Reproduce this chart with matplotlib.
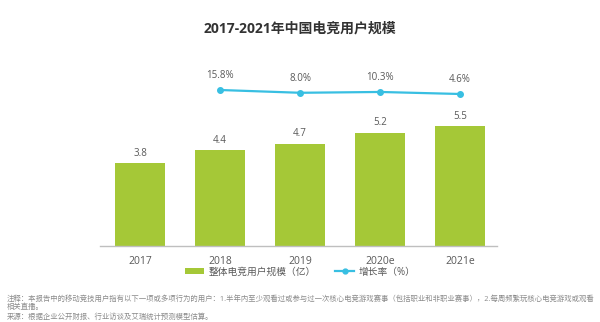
import matplotlib
matplotlib.use("Agg")
import matplotlib.pyplot as plt
from matplotlib.lines import Line2D
from matplotlib.patches import Patch

# ── data ──
YEARS = ["2017", "2018", "2019", "2020e", "2021e"]
USERS = [3.8, 4.4, 4.7, 5.2, 5.5]            # 整体电竞用户规模（亿）
GROWTH_YEARS = ["2018", "2019", "2020e", "2021e"]
GROWTH = [15.8, 8.0, 10.3, 4.6]               # 增长率（%）

GREEN = "#a5c837"
BLUE = "#38bfe2"
INK = "#333333"
LABEL = "#595959"
NOTE = "#8a8a8a"
FONT = ["Open Sans", "Noto Sans CJK SC", "DejaVu Sans"]

plt.rcParams["font.family"] = FONT

W, H = 600, 322
fig = plt.figure(figsize=(W / 100, H / 100), dpi=100)
fig.patch.set_facecolor("white")

# axes placed in pixel terms: baseline at y=246, top at y=60, x 100..497
ax = fig.add_axes([100 / W, 76 / H, 397 / W, 186 / H])
xs = list(range(len(YEARS)))
ax.bar(xs, USERS, width=0.625, color=GREEN, zorder=2)
for x, v in zip(xs, USERS):
    ax.text(x, v + 0.2, f"{v:.1f}", ha="center", va="bottom",
            fontsize=7, color=LABEL)

ax.set_xlim(-0.5, 4.46)
ax.set_ylim(0, 186 / 21.8)
ax.set_xticks(xs)
ax.set_xticklabels(YEARS, fontsize=7.5, color=LABEL)
ax.tick_params(axis="x", length=0, pad=7)
ax.set_yticks([])
for name, s in ax.spines.items():
    s.set_visible(name == "bottom")
ax.spines["bottom"].set_color("#bfbfbf")
ax.spines["bottom"].set_linewidth(1.0)

# growth-rate line on a flat secondary scale (as in the source image)
ax2 = ax.twinx()
gx = [YEARS.index(y) for y in GROWTH_YEARS]
ax2.plot(gx, GROWTH, color=BLUE, lw=1.6, marker="o", ms=4, zorder=3)
span = 186 / 0.357
top = 15.8 + 30 / 0.357
ax2.set_ylim(top - span, top)
for x, v in zip(gx, GROWTH):
    ax2.text(x, v + 24, f"{v:.1f}%", ha="center", va="bottom",
             fontsize=7, color=LABEL)
ax2.set_yticks([])
for s in ax2.spines.values():
    s.set_visible(False)

fig.text(0.5, 1 - 28 / H, "2017-2021年中国电竞用户规模", ha="center",
         va="center", fontsize=10, fontweight="bold", color=INK)

handles = [
    Patch(facecolor=GREEN, edgecolor="none", label="整体电竞用户规模（亿）"),
    Line2D([], [], color=BLUE, lw=1.6, marker="o", ms=3.5, label="增长率（%）"),
]
fig.legend(handles=handles, loc="center", bbox_to_anchor=(300 / W, 1 - 272 / H),
           ncol=2, frameon=False, fontsize=7, handlelength=2.0,
           handleheight=0.6, columnspacing=2.0, handletextpad=0.4,
           labelcolor=LABEL)

notes = [
    "注释：本报告中的移动竞技用户指有以下一项或多项行为的用户：1.半年内至少观看过或参与过一次核心电竞游戏赛事（包括职业和非职业赛事），2.每周频繁玩核心电竞游戏或观看",
    "相关直播。",
    "来源：根据企业公开财报、行业访谈及艾瑞统计预测模型估算。",
]
for i, (line, y) in enumerate(zip(notes, [299, 307.5, 316.5])):
    fig.text(7 / W, 1 - y / H, line, ha="left", va="center",
             fontsize=5.3, color=NOTE)

fig.savefig("out.png", dpi=100, facecolor="white")
